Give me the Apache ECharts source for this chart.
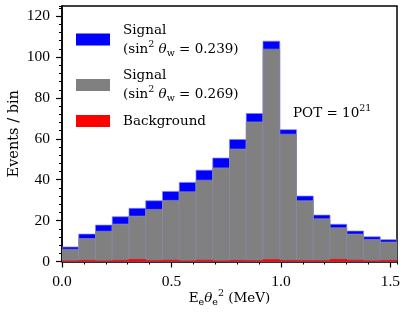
<!DOCTYPE html>
<html>
<head>
<meta charset="utf-8">
<script src="https://cdn.jsdelivr.net/npm/echarts@6/dist/echarts.min.js"></script>
<style>
html,body{margin:0;padding:0;background:#fff;}
#c{width:407px;height:317px;}
</style>
</head>
<body>
<div id="c"></div>
<script>
// ---- data ----
const binWidth = 0.0765;
const signal239 = [7.1, 13.4, 17.8, 21.9, 26.0, 29.7, 34.3, 38.7, 44.7, 50.6, 59.7, 72.4, 107.8, 64.5, 32.0, 22.7, 18.2, 14.9, 12.1, 10.7];
const signal269 = [6.0, 11.2, 14.8, 18.3, 22.2, 25.5, 29.9, 34.1, 39.8, 45.8, 55.0, 68.3, 103.9, 62.3, 29.7, 20.9, 16.5, 13.4, 10.8, 9.5];
const background = [0.3, 0.5, 0.3, 0.5, 1.0, 0.4, 0.6, 0.3, 0.6, 0.3, 0.5, 0.4, 0.9, 0.5, 0.4, 0.4, 1.0, 0.6, 0.3, 0.5];
const xMajorTicks = [0, 0.5, 1.0, 1.5];
const yTickLabels = [0, 20, 40, 60, 80, 100, 120];

const SERIF = '"DejaVu Serif", serif';
const NUMF = '"Liberation Serif", serif';

function toBins(vals) {
  return vals.map((v, i) => [i * binWidth, (i + 1) * binWidth, v]);
}
function barRenderer(fill, stroke) {
  return function (params, api) {
    const x0 = api.value(0), x1 = api.value(1), v = api.value(2);
    const p0 = api.coord([x0, 0]);
    const p1 = api.coord([x1, v]);
    return {
      type: 'rect',
      shape: { x: p0[0], y: p1[1], width: p1[0] - p0[0], height: p0[1] - p1[1] },
      style: { fill: fill, stroke: stroke, lineWidth: 0.7 }
    };
  };
}

const rich = {
  g: { width: 8 },
  t: { fontFamily: SERIF, fontSize: 13.5, lineHeight: 19, color: '#000' },
  it: { fontFamily: SERIF, fontSize: 13.5, fontStyle: 'italic', lineHeight: 19, color: '#000' },
  sup: { fontFamily: SERIF, fontSize: 9.5, lineHeight: 11, verticalAlign: 'top', color: '#000' },
  sub: { fontFamily: SERIF, fontSize: 9.5, lineHeight: 11, verticalAlign: 'bottom', color: '#000' }
};

const legendNames = {
  s239: '{g|}{t|Signal}\n{g|}{t|(sin}{sup|2}{t| }{it|θ}{sub|w}{t| = 0.239)}',
  s269: '{g|}{t|Signal}\n{g|}{t|(sin}{sup|2}{t| }{it|θ}{sub|w}{t| = 0.269)}',
  bkg: '{g|}{t|Background}'
};

const chart = echarts.init(document.getElementById('c'), null, { renderer: 'canvas' });
chart.setOption({
  animation: false,
  backgroundColor: '#fff',
  grid: {
    left: 62, right: 10, top: 6, bottom: 55.5,
    containLabel: false, outerBoundsMode: 'none',
    show: true, borderColor: '#000', borderWidth: 1.5, backgroundColor: 'transparent'
  },
  legend: {
    orient: 'vertical',
    left: 76, top: 23, padding: 0,
    itemWidth: 34, itemHeight: 12, itemGap: 10,
    icon: 'rect',
    selectedMode: false,
    data: ['s239', 's269', 'bkg'],
    formatter: function (n) { return legendNames[n]; },
    textStyle: { rich: rich, fontFamily: SERIF, fontSize: 13.5 }
  },
  xAxis: [
    {
      type: 'value', position: 'bottom', min: 0, max: 1.53, interval: 0.5,
      axisLine: { show: true, lineStyle: { color: '#000', width: 1.5 } },
      axisTick: { show: true, length: 6, lineStyle: { color: '#000', width: 1.2 } },
      axisLabel: {
        show: true, margin: 12, color: '#000', fontFamily: NUMF, fontSize: 15.5,
        showMaxLabel: false,
        formatter: function (v) { return xMajorTicks.indexOf(v) >= 0 ? v.toFixed(1) : ''; }
      },
      splitLine: { show: false },
      name: '{t|E}{sub|e}{it|θ}{sub|e}{sup|2}{t| (MeV)}',
      nameLocation: 'middle', nameGap: 27, nameMoveOverlap: false,
      nameTextStyle: { rich: rich }
    },
    {
      type: 'value', position: 'bottom', min: 0, max: 1.53, interval: 0.1,
      axisLine: { show: false },
      axisTick: { show: true, length: 3, lineStyle: { color: '#000', width: 1 } },
      axisLabel: { show: false },
      splitLine: { show: false }
    }
  ],
  yAxis: [
    {
      type: 'value', position: 'left', min: 0, max: 125, interval: 20,
      axisLine: { show: true, lineStyle: { color: '#000', width: 1.5 } },
      axisTick: { show: true, length: 6, lineStyle: { color: '#000', width: 1.2 } },
      axisLabel: {
        show: true, margin: 12, color: '#000', fontFamily: NUMF, fontSize: 15.5,
        showMaxLabel: false,
        formatter: function (v) { return yTickLabels.indexOf(v) >= 0 ? String(v) : ''; }
      },
      splitLine: { show: false },
      name: 'Events / bin',
      nameLocation: 'middle', nameGap: 40, nameRotate: 90, nameMoveOverlap: false,
      nameTextStyle: { fontFamily: SERIF, fontSize: 14.5, color: '#000' }
    },
    {
      type: 'value', position: 'left', min: 0, max: 125, interval: 4,
      axisLine: { show: false },
      axisTick: { show: true, length: 3, lineStyle: { color: '#000', width: 1 } },
      axisLabel: { show: false },
      splitLine: { show: false }
    }
  ],
  graphic: [
    {
      type: 'text', left: 293, top: 104, z: 100,
      style: {
        text: '{t|POT = 10}{sup|21}',
        rich: rich
      }
    }
  ],
  series: [
    {
      name: 's239', type: 'custom', xAxisIndex: 0, yAxisIndex: 0,
      itemStyle: { color: '#0000ff' },
      renderItem: barRenderer('#0000ff', '#7f7fff'),
      encode: { x: [0, 1], y: 2 },
      data: toBins(signal239), clip: true, z: 2
    },
    {
      name: 's269', type: 'custom', xAxisIndex: 0, yAxisIndex: 0,
      itemStyle: { color: '#808080' },
      renderItem: barRenderer('#808080', '#8a8aa8'),
      encode: { x: [0, 1], y: 2 },
      data: toBins(signal269), clip: true, z: 3
    },
    {
      name: 'bkg', type: 'custom', xAxisIndex: 0, yAxisIndex: 0,
      itemStyle: { color: '#ff0000' },
      renderItem: barRenderer('#ff0000', '#ff0000'),
      encode: { x: [0, 1], y: 2 },
      data: toBins(background), clip: true, z: 4
    }
  ]
});
</script>
</body>
</html>
